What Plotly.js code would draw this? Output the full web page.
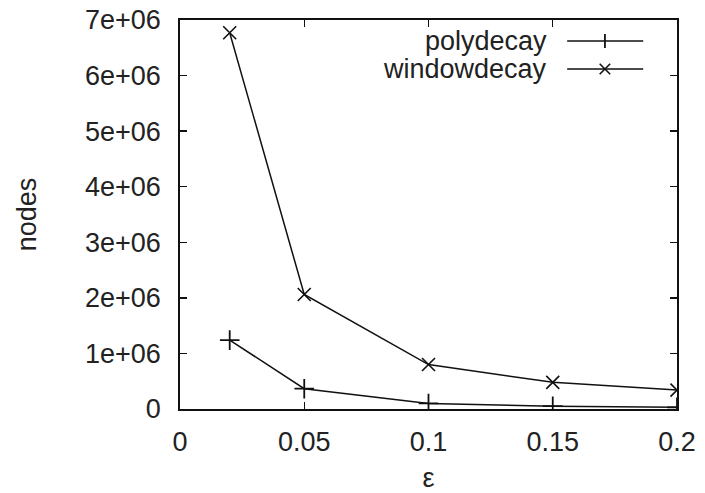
<!DOCTYPE html>
<html>
<head>
<meta charset="utf-8">
<script src="https://cdn.plot.ly/plotly-3.0.1.min.js"></script>
<style>html,body{margin:0;padding:0;background:#fff;}#chart{width:705px;height:493px;}</style>
</head>
<body>
<div id="chart"></div>
<script>
const epsilon = [0.02, 0.05, 0.1, 0.15, 0.2];
const polydecay = [1240000, 365000, 100000, 50000, 30000];
const windowdecay = [6770000, 2060000, 800000, 480000, 340000];
const yTickVals = [0, 1e6, 2e6, 3e6, 4e6, 5e6, 6e6, 7e6];
const yTickText = ['0', '1e+06', '2e+06', '3e+06', '4e+06', '5e+06', '6e+06', '7e+06'];
const xTickVals = [0, 0.05, 0.1, 0.15, 0.2];
const xTickText = ['0', '0.05', '0.1', '0.15', '0.2'];
const seriesNames = ['polydecay', 'windowdecay'];

const font = {family: 'Liberation Sans, Arial, sans-serif', size: 27, color: '#222'};

const traces = [
  {x: epsilon, y: polydecay, name: seriesNames[0], mode: 'lines+markers',
   line: {color: '#111', width: 1.5},
   marker: {symbol: 'cross-thin-open', size: 14, line: {color: '#111', width: 1.8}}},
  {x: epsilon, y: windowdecay, name: seriesNames[1], mode: 'lines+markers',
   line: {color: '#111', width: 1.5},
   marker: {symbol: 'x-thin-open', size: 13, line: {color: '#111', width: 1.6}}}
];

// gnuplot-style legend: text right aligned, sample line to its right
const legY = [0.946, 0.874];
const annotations = seriesNames.map((n, i) => ({
  xref: 'paper', yref: 'paper', x: 0.742, y: legY[i], xanchor: 'right', yanchor: 'middle',
  text: n, showarrow: false, font: font
}));
const shapes = [];
const lx0 = 0.779, lx1 = 0.932, lm = 0.855;
legY.forEach((yy) => {
  shapes.push({type: 'line', xref: 'paper', yref: 'paper', x0: lx0, x1: lx1, y0: yy, y1: yy,
               line: {color: '#111', width: 1.5}});
});
// legend marker glyphs (paper coords)
const dx = 14 / 497 / 2, dy = 14 / 389 / 2;
shapes.push({type: 'line', xref: 'paper', yref: 'paper', x0: lm, x1: lm, y0: legY[0] - dy, y1: legY[0] + dy, line: {color: '#111', width: 1.8}});
shapes.push({type: 'line', xref: 'paper', yref: 'paper', x0: lm - dx*0.75, x1: lm + dx*0.75, y0: legY[1] - dy*0.75, y1: legY[1] + dy*0.75, line: {color: '#111', width: 1.6}});
shapes.push({type: 'line', xref: 'paper', yref: 'paper', x0: lm - dx*0.75, x1: lm + dx*0.75, y0: legY[1] + dy*0.75, y1: legY[1] - dy*0.75, line: {color: '#111', width: 1.6}});

const layout = {
  width: 705, height: 493,
  margin: {l: 180, r: 28, t: 20, b: 84},
  paper_bgcolor: '#fff', plot_bgcolor: '#fff',
  showlegend: false,
  font: font,
  xaxis: {
    range: [0, 0.2], tickvals: xTickVals, ticktext: xTickText,
    ticks: 'inside', ticklen: 7, tickwidth: 1.3, tickcolor: '#111',
    showline: true, linecolor: '#111', linewidth: 1.8, mirror: 'allticks',
    showgrid: false, zeroline: false, ticklabelstandoff: 8,
    tickfont: font,
    title: {text: 'ε', font: font, standoff: 19}
  },
  yaxis: {
    range: [0, 7e6], tickvals: yTickVals, ticktext: yTickText,
    ticks: 'inside', ticklen: 7, tickwidth: 1.3, tickcolor: '#111',
    showline: true, linecolor: '#111', linewidth: 1.8, mirror: 'allticks',
    showgrid: false, zeroline: false, ticklabelstandoff: 12,
    tickfont: font,
    title: {text: 'nodes', font: font, standoff: 40}
  },
  annotations: annotations,
  shapes: shapes
};

Plotly.newPlot('chart', traces, layout, {displayModeBar: false, staticPlot: true});
</script>
</body>
</html>
